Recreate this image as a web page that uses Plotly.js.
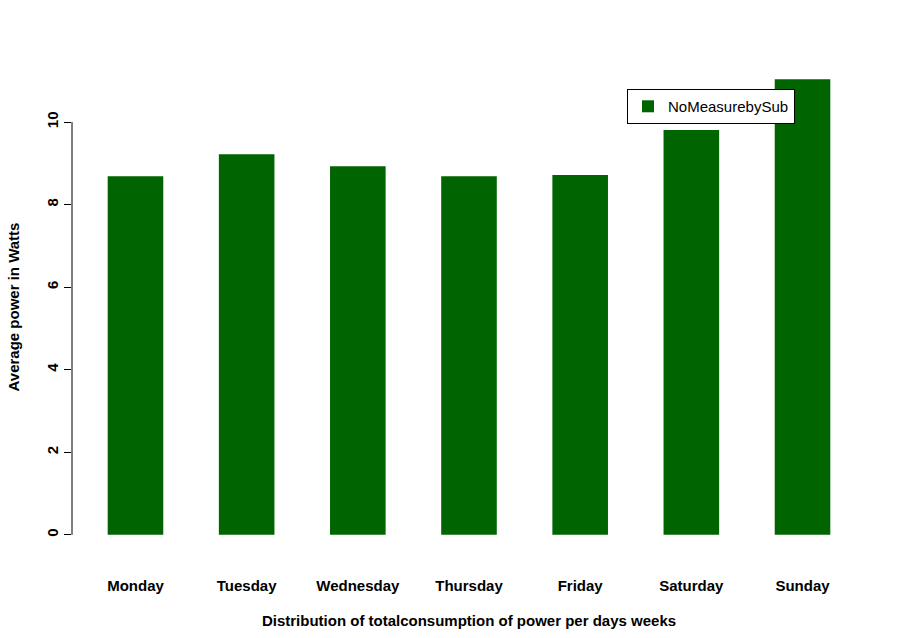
<!DOCTYPE html>
<html><head><script src="https://cdn.plot.ly/plotly-3.0.1.min.js"></script></head>
<body style="margin:0">
<div id="chart" style="width:900px;height:638px"></div>
<script>
var days = ['Monday', 'Tuesday', 'Wednesday', 'Thursday', 'Friday', 'Saturday', 'Sunday'];
var dayPos = [1, 2, 3, 4, 5, 6, 7];
var power = [8.69, 9.22, 8.93, 8.69, 8.72, 9.81, 11.04];
var yTicks = [0, 2, 4, 6, 8, 10];

var trace1 = {
    type: 'bar',
    x: dayPos,
    y: power,
    width: 0.5,
    name: 'NoMeasurebySub',
    marker: {color: '#006400'}
};

var f = {family: 'Liberation Sans, Arial, sans-serif', size: 15, color: '#000'};

var layout = {
    width: 900, height: 638,
    margin: {l: 72, r: 34, t: 61, b: 85},
    paper_bgcolor: '#fff', plot_bgcolor: '#fff',
    font: f,
    showlegend: true,
    xaxis: {
        range: [0.429, 7.571],
        tickvals: dayPos,
        ticktext: days.map(function (d) { return '<b>' + d + '</b>'; }),
        showgrid: false, zeroline: false, showline: false, ticks: '',
        ticklabelstandoff: 22,
        title: {text: '<b>Distribution of totalconsumption of power per days weeks</b>', standoff: 22, font: f}
    },
    yaxis: {
        range: [-0.44, 11.48],
        tickvals: yTicks,
        ticktext: yTicks.map(function (v) { return '<b>' + v + '</b>'; }),
        tickangle: -90,
        ticks: 'outside', ticklen: 7, tickcolor: '#000',
        showgrid: false, zeroline: false, showline: false,
        title: {text: '<b>Average power in Watts</b>', standoff: 20, font: f}
    },
    shapes: [{type: 'line', xref: 'paper', yref: 'y', x0: 0, x1: 0, y0: 0, y1: 10,
        line: {color: '#000', width: 1}}],
    legend: {
        x: 0.699, y: 0.943, xanchor: 'left', yanchor: 'top',
        bordercolor: '#000', borderwidth: 1, bgcolor: '#fff',
        font: {family: 'Liberation Sans, Arial, sans-serif', size: 15},
        entrywidth: 200
    }
};

Plotly.newPlot('chart', [trace1], layout, {displayModeBar: false});
</script>
</body></html>
